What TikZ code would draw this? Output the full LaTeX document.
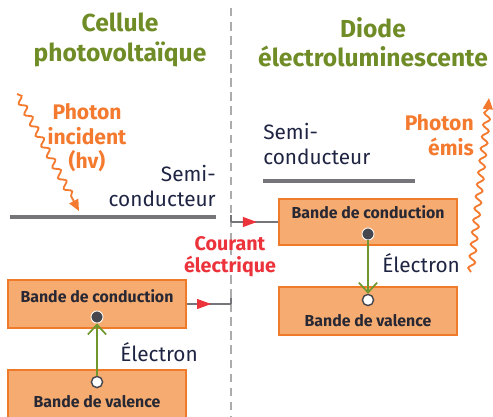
\documentclass[tikz,border=0pt]{standalone}
\usepackage{fontspec}
\setmainfont{Fira Sans}
\usetikzlibrary{arrows.meta,positioning,decorations.pathmorphing,decorations.markings}
\definecolor{TitleGreen}{RGB}{112,140,38}
\definecolor{BandFill}{RGB}{246,172,112}
\definecolor{BandEdge}{RGB}{238,122,42}
\definecolor{PhotonOrange}{RGB}{243,122,46}
\definecolor{CurrentRed}{RGB}{236,50,58}
\definecolor{InkNavy}{RGB}{30,36,66}
\definecolor{BoxInk}{RGB}{40,40,52}
\definecolor{ElectronGreen}{RGB}{112,150,44}
\definecolor{WireGray}{RGB}{118,118,122}
\definecolor{DotGray}{RGB}{70,70,78}
\tikzset{
  heading/.style={font=\fontsize{17.5}{21}\selectfont\bfseries,text=TitleGreen,
    align=center,inner sep=0pt},
  bandbox/.style={draw=BandEdge,fill=BandFill,line width=1.2pt,
    minimum width=4.45cm,minimum height=1.2cm,inner sep=0pt},
  bandtext/.style={font=\fontsize{11.3}{13}\selectfont\bfseries,text=BoxInk,inner sep=0pt},
  semitext/.style={font=\fontsize{14.8}{18.4}\selectfont,text=InkNavy,inner sep=0pt},
  photontext/.style={font=\fontsize{15}{17.5}\selectfont\bfseries,text=PhotonOrange,inner sep=0pt},
  currenttext/.style={font=\fontsize{14}{15.6}\selectfont\bfseries,text=CurrentRed,
    align=center,inner sep=0pt},
  electrontext/.style={font=\fontsize{14.8}{16}\selectfont,text=InkNavy,inner sep=0pt},
  fulldot/.style={circle,fill=DotGray,draw=white,line width=0.6pt,
    minimum size=0.3cm,inner sep=0pt},
  emptydot/.style={circle,fill=white,draw=DotGray,line width=1pt,
    minimum size=0.28cm,inner sep=0pt},
  jump/.style={ElectronGreen,line width=1.2pt,
    -{Straight Barb[length=7pt,width=13pt,line width=1.2pt]}},
  wavy/.style={PhotonOrange,line width=1.3pt,-{Triangle[length=8pt,width=7pt]},
    decorate,decoration={snake,amplitude=0.08cm,segment length=0.3cm,post length=8pt}},
  wire/.style={WireGray,line width=1.1pt,postaction={decorate},
    decoration={markings,mark=at position 0.55 with
      {\arrow[CurrentRed]{Triangle[length=10pt,width=7pt]}}}},
  layer/.style={WireGray,line width=2.4pt},
  divider/.style={gray!65,line width=0.8pt,dash pattern=on 6pt off 4pt}
}
\begin{document}
\begin{tikzpicture}[x=0.025cm,y=-0.025cm]
  \useasboundingbox (0,0) rectangle (493,416);
  % separation between the two devices
  \draw[divider] (231,8) -- (231,420);

  % headings
  \node[heading] (pvtitle) at (120,40) {Cellule\\photovoltaïque};
  \node[heading] (ledtitle) at (373,42) {Diode\\électroluminescente};

  % semiconductor layers
  \node[semitext,align=right,anchor=east] (pvsemi) at (216,186) {Semi-\\conducteur};
  \draw[layer] (10,217) -- (216,217);
  \node[semitext,align=left,anchor=west] (ledsemi) at (263,144) {Semi-\\conducteur};
  \draw[layer] (263,181) -- (415,181);

  % photovoltaic cell
  \node[bandbox] (lcb) at (97,304) {};
  \node[bandtext] (lcbt) at (97,296) {Bande de conduction};
  \node[fulldot] (lcd) at (97,317) {};
  \node[bandbox] (lvb) at (97,394) {};
  \node[emptydot] (lvh) at (97,382) {};
  \node[bandtext] (lvbt) at (97,402) {Bande de valence};
  \draw[jump] (lvh) -- (lcd);
  \node[electrontext,anchor=west] (lel) at (120,352) {Électron};

  % light emitting diode
  \node[bandbox,minimum height=1.15cm] (rcb) at (368,222) {};
  \node[bandtext] (rcbt) at (368,212) {Bande de conduction};
  \node[fulldot] (rcd) at (368,234) {};
  \node[bandbox] (rvb) at (368,311) {};
  \node[emptydot] (rvh) at (368,300) {};
  \node[bandtext] (rvbt) at (368,321) {Bande de valence};
  \draw[jump] (rcd) -- (rvh);
  \node[electrontext,anchor=west] (rel) at (382,263) {Électron};

  % photons
  \coordinate (inA) at (17,94);
  \coordinate (inB) at (79,211);
  \draw[wavy] (inA) -- (inB);
  \node[photontext,align=center] (phin) at (87,138) {Photon\\incident\\(hv)};
  \coordinate (outA) at (471,272);
  \coordinate (outB) at (489,98);
  \draw[wavy] (outA) -- (outB);
  \node[photontext,align=right,anchor=east] (phout) at (474,135) {Photon\\émis};

  % electric current
  \coordinate (jlow) at (231,304);
  \coordinate (jtop) at (231,222);
  \draw[wire] (lcb.east) -- (jlow);
  \draw[WireGray,line width=1.1pt] (jlow) -- ++(0,-6);
  \draw[wire] (jtop) -- (rcb.west);
  \draw[WireGray,line width=1.1pt] (jtop) -- ++(0,-7);
  \node[currenttext] (courant) at (230,257) {Courant\\électrique};
\end{tikzpicture}
\end{document}
